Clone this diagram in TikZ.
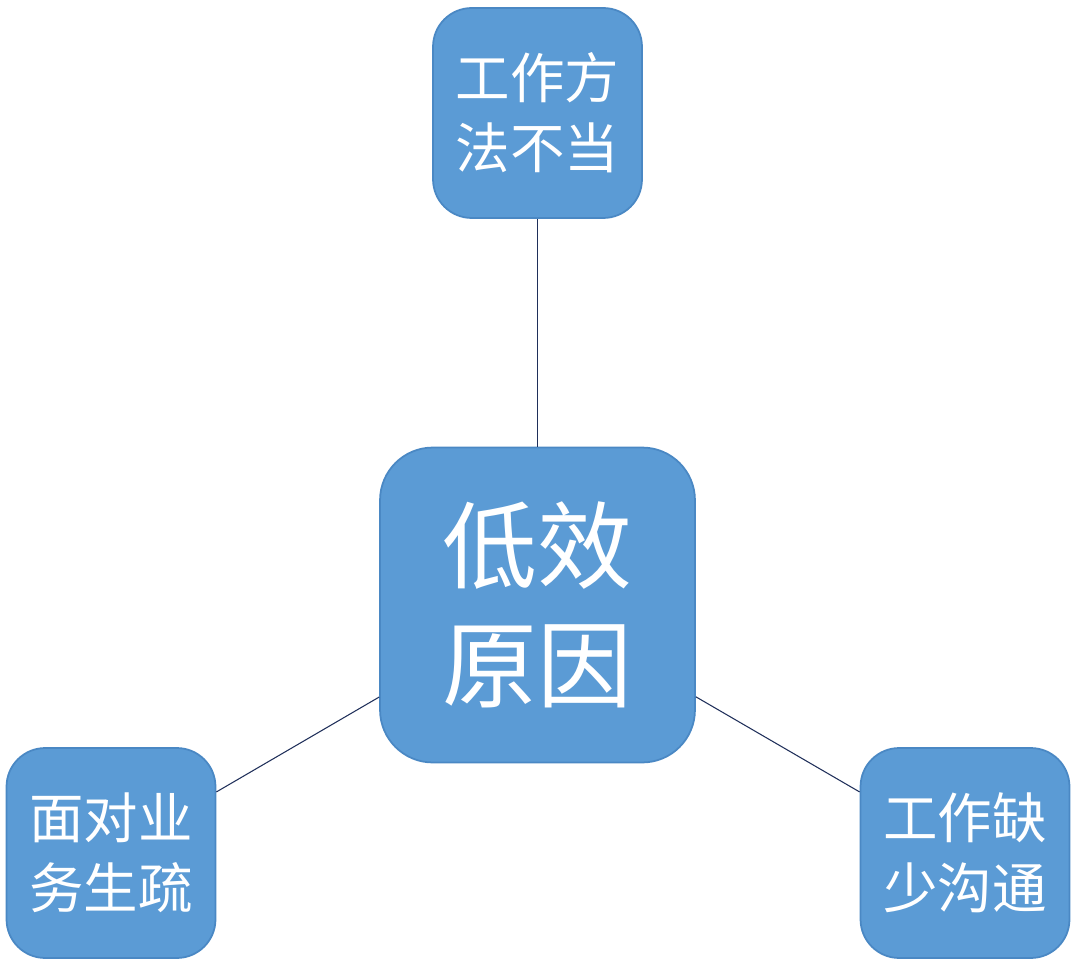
\documentclass[tikz,border=0pt]{standalone}
\usepackage{fontspec}
\setmainfont{Noto Sans CJK SC}
\definecolor{boxblue}{HTML}{5B9BD5}
\definecolor{boxedge}{HTML}{4A88C4}
\definecolor{linknavy}{HTML}{1F2F5A}
\tikzset{
  cause/.style = {draw = boxedge, fill = boxblue, rounded corners = 22pt, line width = 1pt,
    minimum width = 4.18cm, minimum height = 4.2cm, text = white, align = center,
    font = \fontsize{31}{40}\selectfont},
  link/.style = {draw = linknavy, line width = 0.6pt}
}
\begin{document}
\begin{tikzpicture}[x = 0.02cm, y = -0.02cm]
\useasboundingbox [fill = white] (0, 0) rectangle (1078, 966);

\node [cause, minimum width = 6.3cm, minimum height = 6.3cm, rounded corners = 30pt,
  font = \fontsize{54}{68}\selectfont] (reason) at (537.5, 605) {低效\\原因};
\node [cause] (method) at (537.5, 113) {工作方\\法不当};
\node [cause] (business) at (111, 853) {面对业\\务生疏};
\node [cause] (talk) at (965, 853) {工作缺\\少沟通};

\draw [link] (reason) -- (method);
\draw [link] (reason) -- (business);
\draw [link] (reason) -- (talk);
\end{tikzpicture}
\end{document}
